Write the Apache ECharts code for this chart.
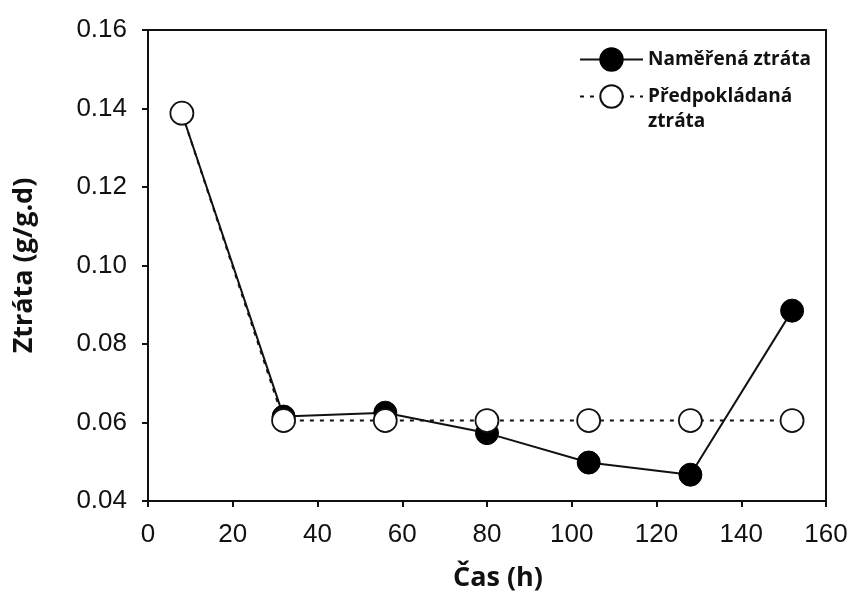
<!DOCTYPE html>
<html>
<head>
<meta charset="utf-8">
<script src="https://cdn.jsdelivr.net/npm/echarts@6/dist/echarts.min.js"></script>
<style>html,body{margin:0;padding:0;background:#fff}#c{width:852px;height:597px}</style>
</head>
<body>
<div id="c"></div>
<script>
var times = [8, 32, 56, 80, 104, 128, 152];
var measured = [0.1388, 0.0615, 0.0625, 0.0573, 0.0498, 0.0467, 0.0885];
var predicted = [0.1388, 0.0605, 0.0605, 0.0605, 0.0605, 0.0605, 0.0605];
var seriesNames = ['Naměřená ztráta', 'Předpokládaná\nztráta'];
var xTitle = 'Čas (h)';
var yTitle = 'Ztráta (g/g.d)';

function pairs(xs, ys) { return xs.map(function (x, i) { return [x, ys[i]]; }); }

var chart = echarts.init(document.getElementById('c'), null, {renderer: 'canvas'});
chart.setOption({
  backgroundColor: '#fff',
  animation: false,
  grid: {left: 148, right: 26, top: 30, bottom: 95, show: true, borderColor: '#111', borderWidth: 2, backgroundColor: 'transparent'},
  xAxis: {
    type: 'value', min: 0, max: 160, interval: 20,
    name: xTitle, nameLocation: 'middle', nameGap: 64,
    nameTextStyle: {fontFamily: 'Open Sans', fontWeight: 'bold', fontSize: 27, color: '#111', padding: [0, 0, 0, 22]},
    axisLine: {show: true, lineStyle: {color: '#111', width: 2}},
    axisTick: {show: true, inside: false, length: 6, lineStyle: {color: '#111', width: 2}},
    axisLabel: {fontFamily: 'Liberation Sans', fontSize: 26, color: '#111', margin: 21},
    splitLine: {show: false}
  },
  yAxis: {
    type: 'value', min: 0.04, max: 0.16, interval: 0.02,
    name: yTitle, nameLocation: 'middle', nameGap: 110, nameRotate: 90,
    nameTextStyle: {fontFamily: 'Open Sans', fontWeight: 'bold', fontSize: 27, color: '#111'},
    axisLine: {show: true, lineStyle: {color: '#111', width: 2}},
    axisTick: {show: true, inside: false, length: 6, lineStyle: {color: '#111', width: 2}},
    axisLabel: {fontFamily: 'Liberation Sans', fontSize: 26, color: '#111', margin: 21,
      formatter: function (v) { return v.toFixed(2); }},
    splitLine: {show: false}
  },
  legend: {
    left: 574, top: 42, orient: 'vertical', itemGap: -13, itemWidth: 63, itemHeight: 28,
    textStyle: {fontFamily: 'Open Sans', fontWeight: 'bold', fontSize: 19, color: '#111', lineHeight: 25},
    formatter: function (name) { return name.indexOf('\n') >= 0 ? '\n' + name : name; },
    data: seriesNames
  },
  series: [
    {
      name: seriesNames[0], type: 'line', data: pairs(times, measured), z: 2,
      symbol: 'circle', symbolSize: 23,
      lineStyle: {color: '#111', width: 2},
      itemStyle: {color: '#000', borderColor: '#000', borderWidth: 1}
    },
    {
      name: seriesNames[1], type: 'line', data: pairs(times, predicted), z: 3,
      symbol: 'circle', symbolSize: 23,
      lineStyle: {color: '#111', width: 2, type: [4, 6]},
      itemStyle: {color: '#fff', borderColor: '#111', borderWidth: 1.8}
    }
  ]
});
</script>
</body>
</html>
